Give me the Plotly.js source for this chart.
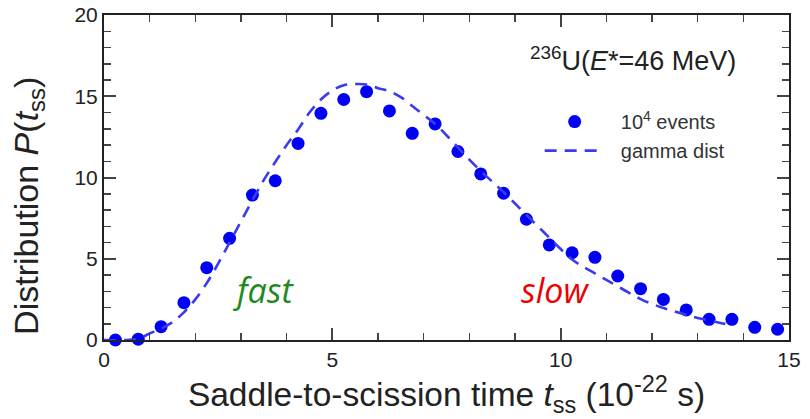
<!DOCTYPE html>
<html>
<head>
<meta charset="utf-8">
<script src="https://cdn.plot.ly/plotly-3.0.1.min.js"></script>
<style>html,body{margin:0;padding:0;background:#fff;}#chart{width:810px;height:419px;}</style>
</head>
<body>
<div id="chart"></div>
<script>
// Simulated events (bin centres, 10^-22 s) and distribution values
var eventTimes = [0.25,0.75,1.25,1.75,2.25,2.75,3.25,3.75,4.25,4.75,5.25,5.75,6.25,6.75,7.25,7.75,8.25,8.75,9.25,9.75,10.25,10.75,11.25,11.75,12.25,12.75,13.25,13.75,14.25,14.75];
var eventValues = [0.0,0.05,0.82,2.3,4.45,6.26,8.92,9.8,12.1,13.95,14.8,15.28,14.1,12.72,13.3,11.6,10.22,9.03,7.43,5.85,5.37,5.09,3.94,3.16,2.5,1.85,1.27,1.27,0.78,0.66];

// Gamma distribution curve
var gammaTimes = [0,0.5,0.75,1.0,1.25,1.5,1.75,2.0,2.25,2.5,2.75,3.0,3.25,3.5,3.75,4.0,4.25,4.5,4.75,5.0,5.25,5.5,5.75,6.0,6.25,6.5,6.75,7.0,7.25,7.5,7.75,8.0,8.25,8.5,8.75,9.0,9.25,9.5,9.75,10.0,10.25,10.5,10.75,11.0,11.25,11.5,11.75,12.0,12.25,12.5,12.75,13.0,13.25,13.5,13.75];
var gammaValues = [0,0,0.08,0.4,0.7,1.1,1.7,2.5,3.5,4.7,6.0,7.3,8.6,9.85,10.95,12.0,12.95,14.0,14.8,15.35,15.68,15.75,15.72,15.5,15.3,14.95,14.4,13.85,13.3,12.6,11.85,11.1,10.4,9.75,9.1,8.4,7.7,7.0,6.3,5.6,4.95,4.5,4.1,3.7,3.3,2.9,2.52,2.22,1.97,1.75,1.55,1.36,1.2,1.05,0.92];

var xTickVals = [0,5,10,15];
var yTickVals = [0,5,10,15,20];

var sans = 'Liberation Sans, Arial, sans-serif';
var axisFont = {family: sans, size: 21, color: '#222'};

var traces = [
  {
    x: eventTimes, y: eventValues, type: 'scatter', mode: 'markers',
    name: '&nbsp;&nbsp;10<sup>4</sup> events',
    marker: {color: '#0000f5', size: 13},
    cliponaxis: false
  },
  {
    x: gammaTimes, y: gammaValues, type: 'scatter', mode: 'lines',
    name: '&nbsp;&nbsp;gamma dist',
    line: {color: '#3a3af2', width: 2.6, dash: '12px,8px', shape: 'spline'}
  }
];

var commonAxis = {
  showgrid: false, zeroline: false, showline: true, linecolor: '#222', linewidth: 2,
  mirror: 'allticks', ticks: 'inside', ticklen: 12, tickwidth: 2, tickcolor: '#444',
  tickfont: axisFont
};

var layout = {
  width: 810, height: 419,
  margin: {l: 104, r: 21, t: 15, b: 79},
  paper_bgcolor: '#fff', plot_bgcolor: '#fff',
  showlegend: true,
  legend: {
    x: 0.636, y: 0.732, xanchor: 'left', yanchor: 'top',
    bgcolor: 'rgba(0,0,0,0)', font: {family: sans, size: 20, color: '#333'},
    itemwidth: 60, tracegroupgap: 0
  },
  xaxis: Object.assign({}, commonAxis, {
    range: [0, 15], tickvals: xTickVals, ticktext: xTickVals.map(String),
    minor: {dtick: 1, ticks: 'inside', ticklen: 7, tickwidth: 1.5, tickcolor: '#444', showgrid: false},
    title: {text: 'Saddle-to-scission time <i>t</i><sub>ss</sub> (10<sup>-22</sup> s)', font: {family: sans, size: 33.5, color: '#222'}, standoff: 6}
  }),
  yaxis: Object.assign({}, commonAxis, {
    range: [0, 20], tickvals: yTickVals, ticktext: yTickVals.map(String),
    minor: {dtick: 1, ticks: 'inside', ticklen: 7, tickwidth: 1.5, tickcolor: '#444', showgrid: false},
    title: {text: 'Distribution <i>P</i>(<i>t</i><sub>ss</sub>)&nbsp;&nbsp;&nbsp;&nbsp;&nbsp;&nbsp;', font: {family: sans, size: 34, color: '#222'}, standoff: 26}
  }),
  annotations: [
    {xref: 'paper', yref: 'paper', x: 0.925, y: 0.865, xanchor: 'right', yanchor: 'middle', showarrow: false,
     text: '<sup>236</sup>U(<i>E</i>*=46 MeV)', font: {family: sans, size: 27, color: '#222'}},
    {xref: 'x', yref: 'y', x: 3.5, y: 3.1, xanchor: 'center', yanchor: 'middle', showarrow: false,
     text: '<i>fast</i>', font: {family: 'Open Sans, sans-serif', size: 34, color: '#1e8a1e'}},
    {xref: 'x', yref: 'y', x: 9.87, y: 3.1, xanchor: 'center', yanchor: 'middle', showarrow: false,
     text: '<i>slow</i>', font: {family: 'Open Sans, sans-serif', size: 34, color: '#ee0000'}}
  ]
};

Plotly.newPlot('chart', traces, layout, {displayModeBar: false, staticPlot: true});
</script>
</body>
</html>
